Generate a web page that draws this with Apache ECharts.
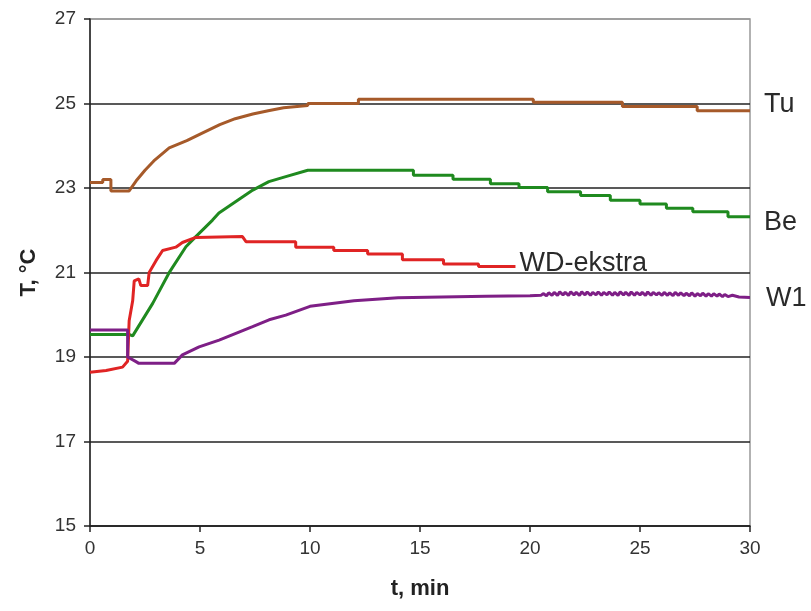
<!DOCTYPE html>
<html>
<head>
<meta charset="utf-8">
<script src="https://cdn.jsdelivr.net/npm/echarts@6/dist/echarts.min.js"></script>
<style>html,body{margin:0;padding:0;background:#fff}#c{width:811px;height:611px}</style>
</head>
<body>
<div id="c"></div>
<script>
// Tu
var tuT = [0, 0.58, 0.58, 0.95, 0.95, 1.78, 2.1, 2.5, 2.9, 3.6, 4.4, 5.1, 5.9, 6.6, 7.4, 8.1, 8.8, 9.9, 9.9, 12.2, 12.2, 20.15, 20.15, 24.2, 24.2, 27.6, 27.6, 30];
var tuV = [23.13, 23.13, 23.2, 23.2, 22.93, 22.93, 23.17, 23.42, 23.64, 23.95, 24.12, 24.3, 24.5, 24.64, 24.75, 24.83, 24.9, 24.95, 25.0, 25.0, 25.1, 25.1, 25.03, 25.03, 24.93, 24.93, 24.83, 24.83];
// Be
var beT = [0, 1.8, 1.94, 2.85, 3.59, 4.36, 4.81, 5.57, 5.86, 6.63, 7.4, 8.13, 8.9, 9.9, 14.7, 14.7, 16.5, 16.5, 18.2, 18.2, 19.5, 19.5, 20.8, 20.8, 22.3, 22.3, 23.65, 23.65, 25.0, 25.0, 26.2, 26.2, 27.4, 27.4, 29.0, 29.0, 30];
var beV = [19.53, 19.53, 19.5, 20.27, 20.99, 21.61, 21.85, 22.24, 22.41, 22.68, 22.95, 23.15, 23.27, 23.42, 23.42, 23.3, 23.3, 23.21, 23.21, 23.1, 23.1, 23.01, 23.01, 22.91, 22.91, 22.82, 22.82, 22.71, 22.71, 22.62, 22.62, 22.52, 22.52, 22.44, 22.44, 22.32, 22.32];
// WD-ekstra
var wdT = [0, 0.73, 1.48, 1.71, 1.78, 1.94, 2.01, 2.22, 2.31, 2.62, 2.69, 3.0, 3.3, 3.9, 4.2, 4.81, 6.93, 7.09, 9.35, 9.35, 11.08, 11.08, 12.62, 12.62, 14.2, 14.2, 16.07, 16.07, 17.66, 17.66, 19.34];
var wdV = [18.64, 18.68, 18.76, 18.9, 19.86, 20.33, 20.8, 20.85, 20.69, 20.69, 21.0, 21.28, 21.52, 21.6, 21.71, 21.83, 21.85, 21.73, 21.73, 21.6, 21.6, 21.52, 21.52, 21.44, 21.44, 21.3, 21.3, 21.2, 21.2, 21.14, 21.14];
// W1
var w1T = [0, 1.71, 1.71, 2.09, 2.22, 3.83, 4.2, 4.96, 5.87, 6.63, 7.39, 8.14, 8.9, 10, 12, 14, 16, 18, 20,
  20.5, 20.6, 20.75, 20.85, 21.0, 21.1, 21.25, 21.35, 21.5, 21.6, 21.75, 21.85, 22.0, 22.1, 22.25, 22.35, 22.5, 22.6, 22.75, 22.85,
  23.0, 23.1, 23.25, 23.35, 23.5, 23.6, 23.75, 23.85, 24.0, 24.1, 24.25, 24.35, 24.5, 24.6, 24.75, 24.85,
  25.0, 25.1, 25.25, 25.35, 25.5, 25.6, 25.75, 25.85, 26.0, 26.1, 26.25, 26.35, 26.5, 26.6, 26.75, 26.85,
  27.0, 27.1, 27.25, 27.35, 27.5, 27.6, 27.75, 27.85, 28.0, 28.1, 28.25, 28.35, 28.5, 28.6, 28.75, 28.85, 29.0, 29.2, 29.5, 30];
var w1V = [19.64, 19.64, 19.0, 18.89, 18.85, 18.85, 19.05, 19.24, 19.4, 19.56, 19.72, 19.88, 19.99, 20.2, 20.33, 20.4, 20.42, 20.44, 20.45,
  20.46, 20.5, 20.45, 20.52, 20.46, 20.53, 20.46, 20.54, 20.47, 20.53, 20.46, 20.54, 20.47, 20.53, 20.46, 20.54, 20.47, 20.54, 20.46, 20.53,
  20.47, 20.54, 20.46, 20.53, 20.47, 20.54, 20.46, 20.53, 20.46, 20.54, 20.47, 20.53, 20.46, 20.54, 20.46, 20.53,
  20.47, 20.53, 20.46, 20.54, 20.46, 20.53, 20.47, 20.52, 20.46, 20.53, 20.46, 20.52, 20.45, 20.53, 20.46, 20.52,
  20.45, 20.51, 20.45, 20.52, 20.44, 20.5, 20.45, 20.51, 20.44, 20.5, 20.44, 20.5, 20.44, 20.49, 20.43, 20.48, 20.43, 20.46, 20.42, 20.41];
var xTicks = [0, 5, 10, 15, 20, 25, 30];
var yTicks = [15, 17, 19, 21, 23, 25, 27];

function zip(t, v) { return t.map(function (x, i) { return [x, v[i]]; }); }

var FONT = '"Liberation Sans", Arial, sans-serif';
function mk(name, t, v, color, lab) {
  return {
    name: name, type: 'line', data: zip(t, v), showSymbol: false, symbol: 'none',
    lineStyle: { color: color, width: 3 }, itemStyle: { color: color },
    animation: false, z: 3,
    endLabel: {
      show: true, formatter: name, fontFamily: FONT, fontSize: 27, color: '#2a2a2a',
      distance: lab.d, offset: lab.o
    }
  };
}

var chart = echarts.init(document.getElementById('c'));
chart.setOption({
  animation: false,
  backgroundColor: '#fff',
  grid: { left: 90, right: 61, top: 19, bottom: 85, show: true, borderColor: '#999', borderWidth: 1.5 },
  xAxis: {
    type: 'value', min: xTicks[0], max: xTicks[xTicks.length - 1], interval: 5,
    name: 't, min', nameLocation: 'middle', nameGap: 52,
    nameTextStyle: { fontFamily: FONT, fontSize: 22, fontWeight: 'bold', color: '#222' },
    axisLine: { lineStyle: { color: '#222', width: 1.5 } },
    axisTick: { length: 6, lineStyle: { color: '#222', width: 1.5 } },
    axisLabel: { fontFamily: FONT, fontSize: 19, color: '#333', margin: 13 },
    splitLine: { show: false }
  },
  yAxis: {
    type: 'value', min: yTicks[0], max: yTicks[yTicks.length - 1], interval: 2,
    name: 'T, °C', nameLocation: 'middle', nameGap: 50, nameRotate: 90,
    nameTextStyle: { fontFamily: FONT, fontSize: 22, fontWeight: 'bold', color: '#222' },
    axisLine: { show: true, lineStyle: { color: '#222', width: 1.5 } },
    axisTick: { show: true, length: 6, lineStyle: { color: '#222', width: 1.5 } },
    axisLabel: { fontFamily: FONT, fontSize: 19, color: '#333', margin: 14 },
    splitLine: { show: true, lineStyle: { color: ['#222', '#222', '#222', '#222', '#222', '#222', '#999'], width: 1.5 } }
  },
  series: [
    mk('Tu', tuT, tuV, '#A65A2A', { d: 14, o: [0, -6] }),
    mk('Be', beT, beV, '#1F8A1F', { d: 14, o: [0, 6] }),
    mk('WD-ekstra', wdT, wdV, '#E02424', { d: 4, o: [0, -3] }),
    mk('W1', w1T, w1V, '#7E1F86', { d: 16, o: [0, 1] })
  ]
});
</script>
</body>
</html>
